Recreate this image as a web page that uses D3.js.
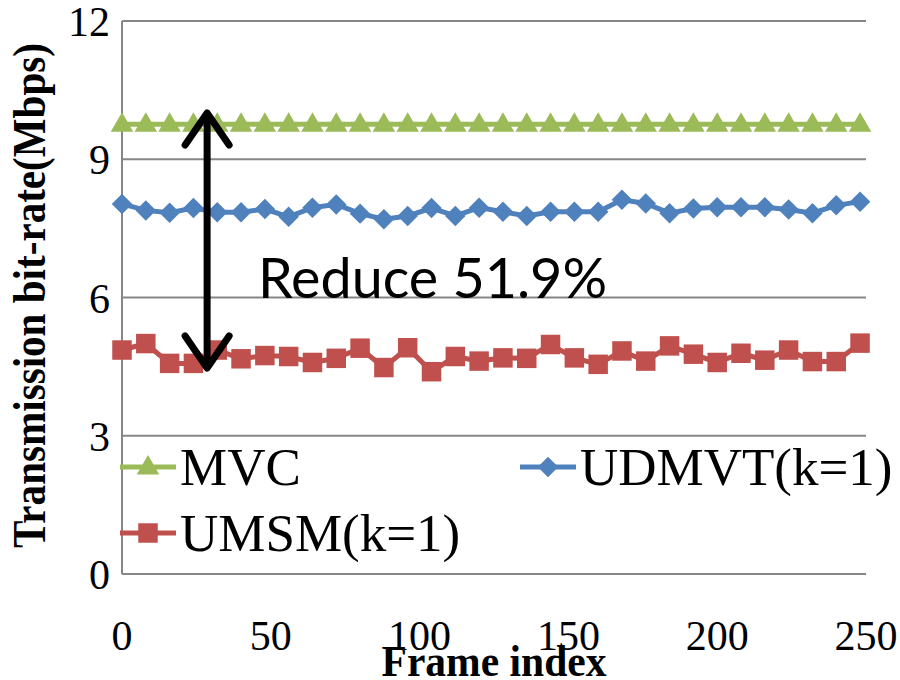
<!DOCTYPE html>
<html>
<head>
<meta charset="utf-8">
<script src="https://cdn.jsdelivr.net/npm/d3@7/dist/d3.min.js"></script>
<style>
  body { margin: 0; background: #fff; }
  svg { display: block; }
</style>
</head>
<body>
<div id="visContainer"></div>
<script>
'use strict';

// data
var frames = d3.range(0, 249, 8);   // 0, 8, ... 248
var mvc = [9.76,9.76,9.76,9.76,9.76,9.76,9.76,9.76,9.76,9.76,9.76,9.76,9.76,9.76,9.76,9.76,
           9.76,9.76,9.76,9.76,9.76,9.76,9.76,9.76,9.76,9.76,9.76,9.76,9.76,9.76,9.76,9.76];
var udmvt = [8.03,7.89,7.84,7.94,7.85,7.85,7.92,7.75,7.95,8.02,7.82,7.70,7.77,7.94,7.77,7.95,
             7.86,7.77,7.86,7.86,7.86,8.12,8.04,7.83,7.93,7.96,7.96,7.96,7.91,7.83,8.0,8.08];
var umsm = [4.86,5.0,4.57,4.57,4.86,4.67,4.74,4.72,4.59,4.68,4.90,4.48,4.91,4.39,4.72,4.62,
            4.69,4.68,4.98,4.69,4.55,4.84,4.62,4.95,4.77,4.59,4.79,4.64,4.86,4.61,4.61,5.01];
var xTicks = [0, 50, 100, 150, 200, 250];
var yTicks = [0, 3, 6, 9, 12];
var seriesNames = ['MVC', 'UDMVT(k=1)', 'UMSM(k=1)'];

var width = 900, height = 680;
var margin = {top: 21, right: 34, bottom: 106, left: 122};

var svg = d3.select('#visContainer')
  .append('svg')
  .attr('width', width)
  .attr('height', height);

var xScale = d3.scaleLinear().domain([0, 250]).range([margin.left, width - margin.right]);
var yScale = d3.scaleLinear().domain([0, 12]).range([height - margin.bottom, margin.top]);

var serif = '"Liberation Serif", "Times New Roman", serif';
var grey = '#868686';

// gridlines
svg.append('g')
  .selectAll('line')
  .data(yTicks)
  .enter().append('line')
  .attr('x1', xScale(0)).attr('x2', xScale(250))
  .attr('y1', function(d){ return yScale(d); })
  .attr('y2', function(d){ return yScale(d); })
  .attr('stroke', grey).attr('stroke-width', 2);

// left axis line
svg.append('line')
  .attr('x1', xScale(0)).attr('x2', xScale(0))
  .attr('y1', yScale(0)).attr('y2', yScale(12))
  .attr('stroke', grey).attr('stroke-width', 2);

// tick labels
svg.append('g').selectAll('text')
  .data(yTicks).enter().append('text')
  .attr('x', 110)
  .attr('y', function(d){ return yScale(d) + 15; })
  .attr('text-anchor', 'end')
  .style('font-family', serif).style('font-size', '42px')
  .text(function(d){ return d; });

svg.append('g').selectAll('text')
  .data(xTicks).enter().append('text')
  .attr('x', function(d){ return xScale(d); })
  .attr('y', 650)
  .attr('text-anchor', 'middle')
  .style('font-family', serif).style('font-size', '42px')
  .text(function(d){ return d; });

// axis titles
svg.append('text')
  .attr('x', (xScale(0) + xScale(250)) / 2)
  .attr('y', 676)
  .attr('text-anchor', 'middle')
  .attr('textLength', 225).attr('lengthAdjust', 'spacingAndGlyphs')
  .style('font-family', serif).style('font-size', '45px').style('font-weight', 'bold')
  .text('Frame index');

svg.append('text')
  .attr('transform', 'translate(45,' + ((yScale(0) + yScale(12)) / 2 - 2) + ') rotate(-90)')
  .attr('text-anchor', 'middle')
  .attr('textLength', 505).attr('lengthAdjust', 'spacingAndGlyphs')
  .style('font-family', serif).style('font-size', '46px').style('font-weight', 'bold')
  .text('Transmission bit-rate(Mbps)');

// series
var colors = ['#9BBB59', '#4F81BD', '#C0504D'];
var symbols = [d3.symbolTriangle, d3.symbolSquare, d3.symbolSquare];
var symSizes = [220, 210, 380];
var allSeries = [mvc, udmvt, umsm];

function drawMarker(g, i, x, y) {
  var sym = d3.symbol().type(symbols[i]).size(symSizes[i]);
  var tr = 'translate(' + x + ',' + y + ')';
  if (i === 1) tr += ' rotate(45)';
  if (i === 0) tr += ' translate(0,1)';
  g.append('path').attr('d', sym).attr('transform', tr).attr('fill', colors[i]);
}

var line = d3.line()
  .x(function(d){ return xScale(d[0]); })
  .y(function(d){ return yScale(d[1]); });

allSeries.forEach(function(vals, i) {
  var pts = frames.map(function(f, j){ return [f, vals[j]]; });
  var g = svg.append('g');
  g.append('path')
    .attr('d', line(pts))
    .attr('fill', 'none')
    .attr('stroke', colors[i])
    .attr('stroke-width', 5);
  pts.forEach(function(p){ drawMarker(g, i, xScale(p[0]), yScale(p[1])); });
});

// legend
var legendItems = [
  {x: 120, y: 467, tx: 180, ty: 485},
  {x: 520, y: 467, tx: 580, ty: 485},
  {x: 120, y: 533, tx: 180, ty: 551}
];
legendItems.forEach(function(it, i) {
  var g = svg.append('g');
  g.append('line')
    .attr('x1', it.x).attr('x2', it.x + 56)
    .attr('y1', it.y).attr('y2', it.y)
    .attr('stroke', colors[i]).attr('stroke-width', 5);
  drawMarker(g, i, it.x + 28, it.y);
  g.append('text')
    .attr('x', it.tx).attr('y', it.ty)
    .style('font-family', serif).style('font-size', '53px')
    .text(seriesNames[i]);
});

// double arrow annotation
var ax = xScale(28.6), yTop = 113, yBot = 368;
var arrow = svg.append('g')
  .attr('stroke', '#000').attr('stroke-width', 7)
  .attr('fill', 'none').attr('stroke-linecap', 'round').attr('stroke-linejoin', 'round');
arrow.append('line').attr('x1', ax).attr('x2', ax).attr('y1', yTop + 2).attr('y2', yBot - 2);
arrow.append('path').attr('d', 'M' + (ax - 22) + ',' + (yTop + 32) + 'L' + ax + ',' + yTop + 'L' + (ax + 22) + ',' + (yTop + 32));
arrow.append('path').attr('d', 'M' + (ax - 22) + ',' + (yBot - 32) + 'L' + ax + ',' + yBot + 'L' + (ax + 22) + ',' + (yBot - 32));

svg.append('text')
  .attr('x', 258).attr('y', 298)
  .attr('textLength', 349).attr('lengthAdjust', 'spacingAndGlyphs')
  .style('font-family', 'Lato, "Open Sans", sans-serif').style('font-size', '56px')
  .text('Reduce 51.9%');
</script>
</body>
</html>
